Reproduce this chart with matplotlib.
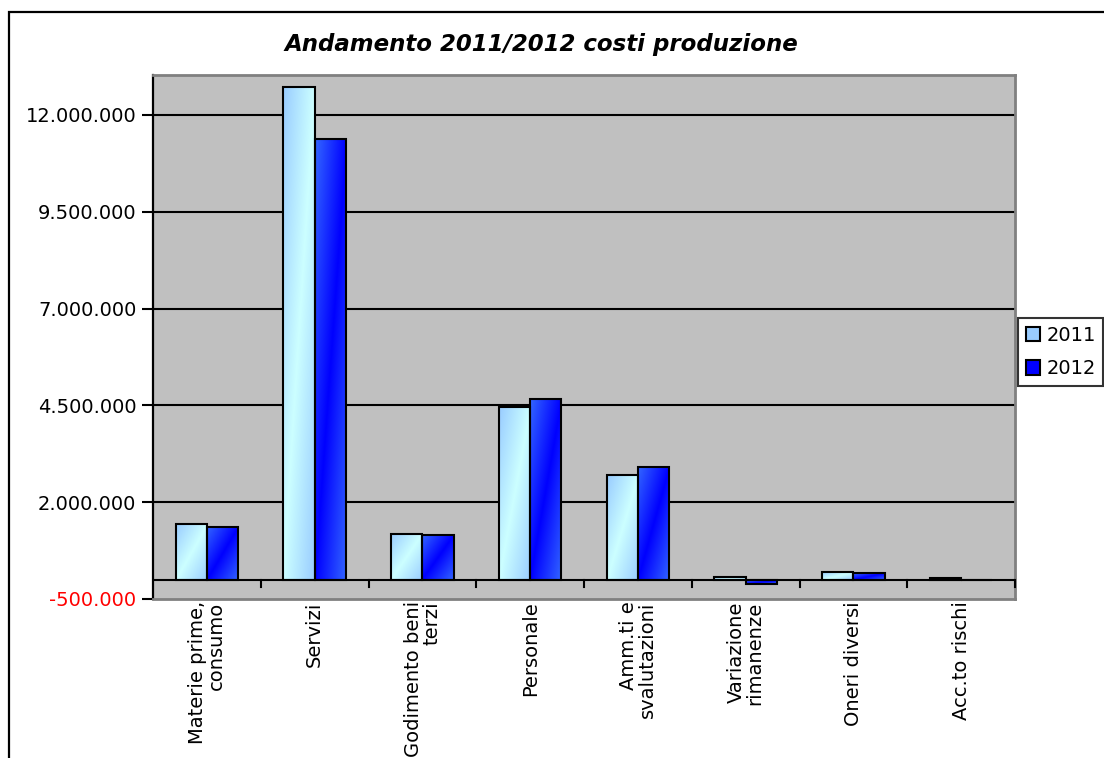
import numpy as np
import matplotlib
matplotlib.use("Agg")
import matplotlib.pyplot as plt
import matplotlib.patches as patches
from matplotlib.colors import to_rgb

plt.rcParams['font.family'] = ['DejaVu Sans']

# data
categories = ["Materie prime,\nconsumo", "Servizi", "Godimento beni\nterzi", "Personale",
              "Amm.ti e\nsvalutazioni", "Variazione\nrimanenze", "Oneri diversi", "Acc.to rischi"]
v2011 = [1430000, 12730000, 1190000, 4470000, 2710000, 60000, 190000, 50000]
v2012 = [1370000, 11370000, 1160000, 4660000, 2920000, -100000, 180000, 0]
series = ["2011", "2012"]
yticks = [-500000, 2000000, 4500000, 7000000, 9500000, 12000000]

def fmt(v):
    s = "{:,}".format(abs(v)).replace(",", ".")
    return "-" + s if v < 0 else s

fig = plt.figure(figsize=(11.04, 7.58), dpi=100)
# outer chart border
fig.patches.append(patches.Rectangle((9/1104, -0.1), 1.2, 1.1 - 12/758,
                                     transform=fig.transFigure, fill=False,
                                     edgecolor='black', lw=1.6, zorder=0))

ax = fig.add_axes([153/1104, 1 - 599/758, (1015 - 153)/1104, (599 - 75)/758])
ax.set_facecolor('#c0c0c0')

x = np.arange(len(categories))
w = 0.29
b1 = ax.bar(x - w/2, v2011, w, facecolor='none', edgecolor='black', lw=1.5, zorder=3)
b2 = ax.bar(x + w/2, v2012, w, facecolor='none', edgecolor='black', lw=1.5, zorder=3)

# diagonal gradient fill of the bars
def grad(center, edge):
    n = 64
    u = np.linspace(0, 1, n)
    vv = np.linspace(1, 0, n)
    U, V = np.meshgrid(u, vv)
    d = (U - V + 1) / 2
    t = np.abs(d - 0.5) * 2
    c = np.array(to_rgb(center)); e = np.array(to_rgb(edge))
    return c[None, None, :] * (1 - t[..., None]) + e[None, None, :] * t[..., None]

g1 = grad('#ccffff', '#99ccff')
g2 = grad('#0000ff', '#3366ff')
for bars, g in ((b1, g1), (b2, g2)):
    for p in bars:
        x0, y0 = p.get_x(), p.get_y()
        h = p.get_height()
        if h == 0:
            continue
        y_lo, y_hi = min(y0, y0 + h), max(y0, y0 + h)
        im = ax.imshow(g, extent=[x0, x0 + p.get_width(), y_lo, y_hi],
                       aspect='auto', zorder=2, interpolation='bilinear')
        im.set_clip_path(p)

ax.set_xlim(-0.5, len(categories) - 0.5)
ax.set_ylim(-500000, 13030000)

# gridlines and category axis
for t in yticks[1:]:
    ax.axhline(t, color='black', lw=1.5, zorder=1)
ax.axhline(0, color='black', lw=1.5, zorder=4)
for b in np.arange(0.5, len(categories), 1.0):
    ax.plot([b, b], [0, -180000], color='black', lw=1.5, zorder=4, clip_on=False)

ax.set_yticks(yticks)
ax.set_yticklabels([fmt(t) for t in yticks], fontsize=14)
ax.get_yticklabels()[0].set_color('red')
ax.tick_params(axis='y', direction='out', length=8, width=1.5, pad=4)
ax.set_xticks([])

for s in ('top', 'right', 'bottom'):
    ax.spines[s].set_color('#808080')
    ax.spines[s].set_linewidth(2)
ax.spines['left'].set_color('black')
ax.spines['left'].set_linewidth(1.6)

for i, c in enumerate(categories):
    ax.text(i, -560000, c, rotation=90, ha='center', va='top', multialignment='right',
            fontsize=14, linespacing=0.95)

fig.text(0.49, 1 - 45/758, "Andamento 2011/2012 costi produzione", ha='center', va='center',
         fontsize=16.5, fontweight='bold', fontstyle='italic')

handles = [patches.Patch(facecolor='#99ccff', edgecolor='black', lw=1.5),
           patches.Patch(facecolor='#0000ff', edgecolor='black', lw=1.5)]
leg = fig.legend(handles, series, loc='upper left', bbox_to_anchor=(1018/1104, 1 - 318/758),
                 fontsize=14, frameon=True, fancybox=False, edgecolor='black',
                 handlelength=0.75, handleheight=0.75, handletextpad=0.3,
                 borderpad=0.4, labelspacing=0.75, borderaxespad=0)
leg.get_frame().set_linewidth(1.5)

fig.savefig("out.png", dpi=100)
